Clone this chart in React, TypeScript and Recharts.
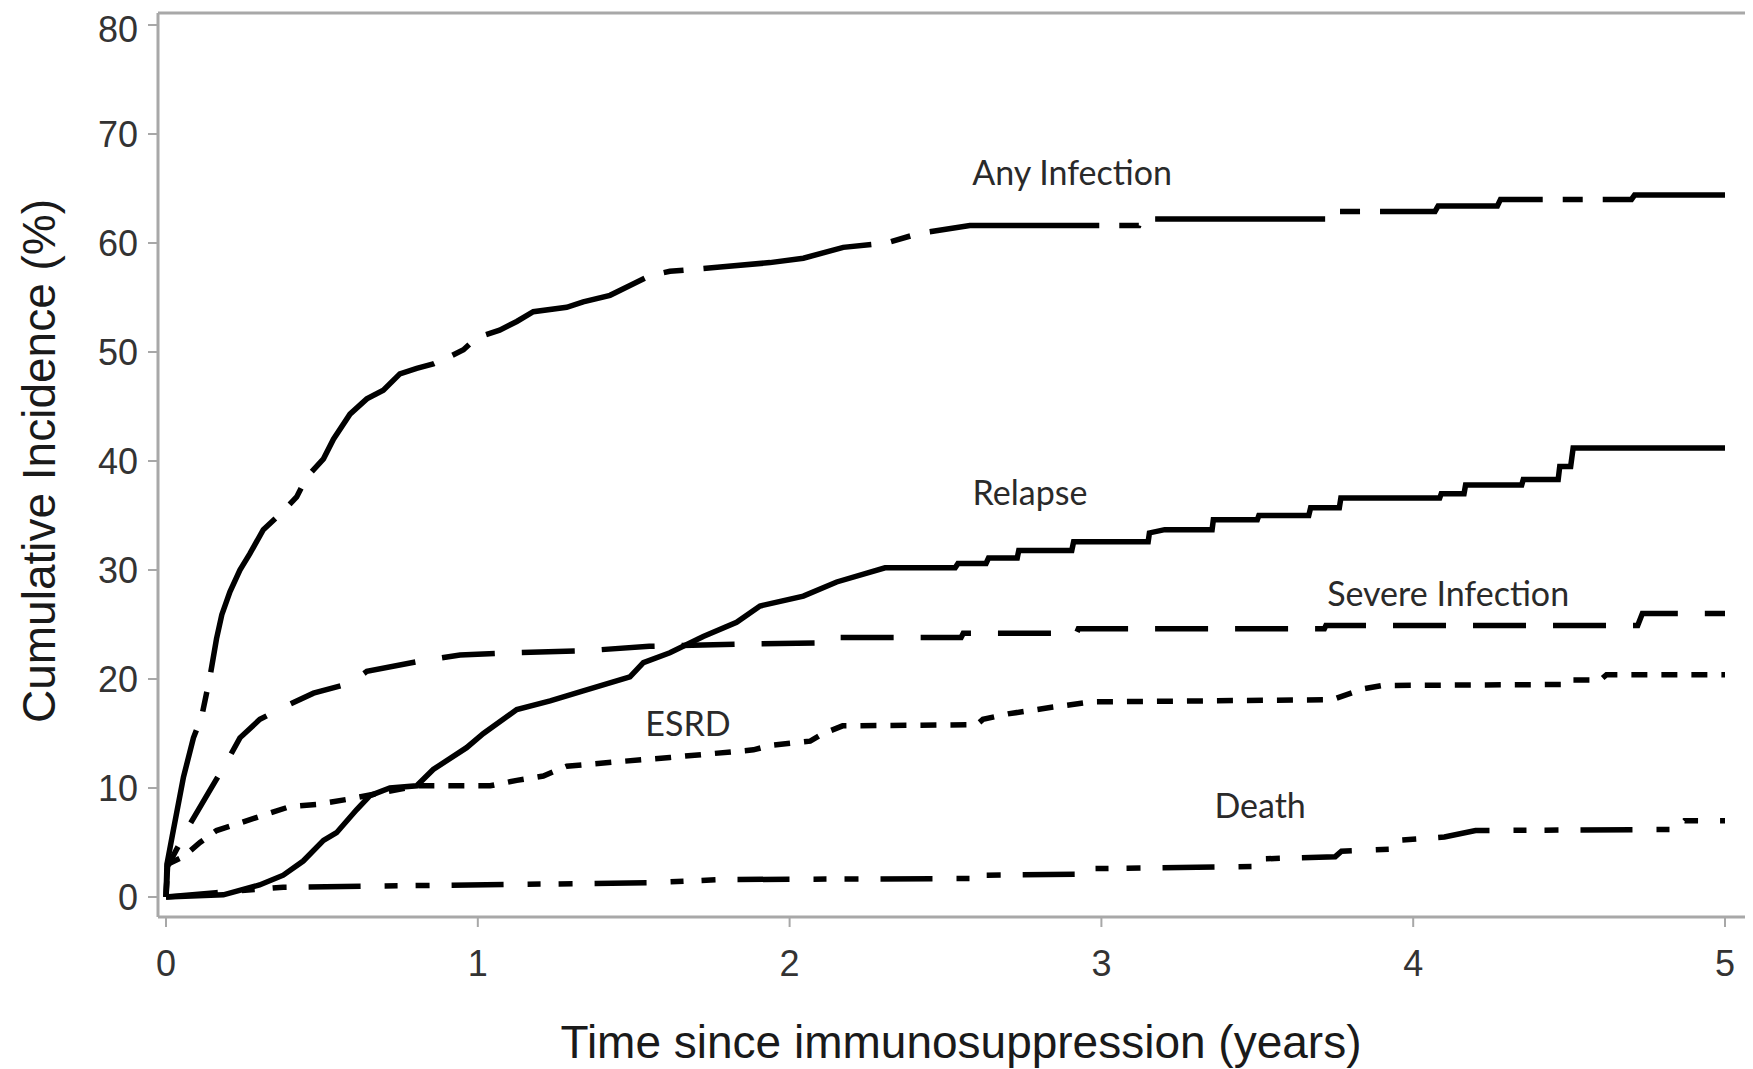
import React from "react";
import {
  LineChart,
  Line,
  XAxis,
  YAxis,
  ReferenceLine,
  ReferenceDot,
} from "recharts";

// cumulative incidence (%) as [years, percent] vertices
const anyInfection: [number, number][] = [
  [0, 0], [0.003, 3], [0.02, 5.6], [0.056, 11], [0.088, 14.6], [0.114, 16.5],
  [0.141, 20.2], [0.162, 23.7], [0.179, 25.9], [0.205, 28], [0.237, 30],
  [0.269, 31.5], [0.312, 33.7], [0.376, 35.4], [0.419, 36.7], [0.451, 38.5],
  [0.505, 40.2], [0.537, 42], [0.59, 44.3], [0.644, 45.7], [0.697, 46.5],
  [0.75, 48], [0.804, 48.5], [0.857, 48.9], [0.911, 49.6], [0.954, 50.2],
  [0.996, 51.3], [1.07, 52], [1.125, 52.8], [1.178, 53.7], [1.285, 54.1],
  [1.338, 54.6], [1.424, 55.2], [1.488, 56.1], [1.552, 57], [1.616, 57.4],
  [1.777, 57.8], [1.937, 58.2], [2.044, 58.6], [2.172, 59.6], [2.31, 60],
  [2.418, 60.9], [2.578, 61.6], [3.12, 61.6], [3.13, 62.2], [3.73, 62.2],
  [3.74, 62.9], [4.07, 62.9], [4.08, 63.4], [4.27, 63.4], [4.28, 64.0],
  [4.7, 64.0], [4.71, 64.4], [5.0, 64.4],
];

const relapse: [number, number][] = [
  [0, 0], [0.184, 0.2], [0.3, 1.1], [0.376, 2], [0.44, 3.3], [0.505, 5.2],
  [0.547, 5.9], [0.611, 8], [0.654, 9.3], [0.718, 10], [0.804, 10.2],
  [0.857, 11.7], [0.964, 13.7], [1.018, 15], [1.125, 17.2], [1.232, 18],
  [1.338, 18.9], [1.488, 20.2], [1.531, 21.5], [1.616, 22.4], [1.723, 23.9],
  [1.83, 25.2], [1.905, 26.7], [2.044, 27.6], [2.151, 28.9], [2.306, 30.2],
  [2.531, 30.2], [2.54, 30.6], [2.63, 30.6], [2.638, 31.1], [2.73, 31.1],
  [2.735, 31.8], [2.905, 31.8], [2.911, 32.6], [3.15, 32.6], [3.154, 33.4],
  [3.203, 33.7], [3.355, 33.7], [3.359, 34.6], [3.5, 34.6], [3.505, 35.0],
  [3.665, 35.0], [3.671, 35.7], [3.763, 35.7], [3.768, 36.6], [4.085, 36.6],
  [4.09, 37.0], [4.163, 37.0], [4.168, 37.8], [4.348, 37.8], [4.353, 38.3],
  [4.465, 38.3], [4.47, 39.5], [4.505, 39.5], [4.513, 41.2], [5.0, 41.2],
];

const severeInfection: [number, number][] = [
  [0, 0], [0.005, 2.8], [0.077, 6.7], [0.141, 9.8], [0.195, 12.4],
  [0.237, 14.6], [0.301, 16.3], [0.376, 17.4], [0.473, 18.7], [0.59, 19.6],
  [0.644, 20.7], [0.825, 21.7], [0.943, 22.2], [1.1, 22.4], [1.35, 22.6],
  [1.55, 23], [1.83, 23.2], [2.1, 23.3], [2.15, 23.8], [2.55, 23.8],
  [2.557, 24.2], [2.92, 24.2], [2.926, 24.6], [3.715, 24.6], [3.72, 24.9],
  [4.72, 24.9], [4.735, 26.0], [5.0, 26.0],
];

const esrd: [number, number][] = [
  [0, 0], [0.005, 3], [0.056, 3.7], [0.109, 5], [0.162, 6.1], [0.227, 6.7],
  [0.323, 7.6], [0.398, 8.3], [0.483, 8.5], [0.59, 9.0], [0.697, 9.6],
  [0.804, 10.2], [1.04, 10.2], [1.125, 10.7], [1.21, 11.1], [1.285, 12],
  [1.445, 12.4], [1.616, 12.8], [1.884, 13.5], [1.937, 13.9], [2.066, 14.3],
  [2.108, 15], [2.17, 15.7], [2.6, 15.8], [2.62, 16.3], [2.7, 16.8],
  [2.84, 17.4], [2.97, 17.9], [3.74, 18.1], [3.84, 19.1], [3.9, 19.4],
  [4.49, 19.5], [4.51, 19.9], [4.6, 19.9], [4.62, 20.4], [5.0, 20.4],
];

const death: [number, number][] = [
  [0, 0], [0.16, 0.4], [0.376, 0.9], [1.55, 1.3], [1.776, 1.6], [2.6, 1.7],
  [2.62, 2.0], [2.96, 2.1], [2.97, 2.6], [3.5, 2.8], [3.52, 3.5], [3.75, 3.7],
  [3.77, 4.2], [3.93, 4.4], [3.95, 5.2], [4.1, 5.5], [4.2, 6.1], [4.84, 6.2],
  [4.87, 7.0], [5.0, 7.0],
];

const xTicks = [0, 1, 2, 3, 4, 5];
const yTicks = [0, 10, 20, 30, 40, 50, 60, 70, 80];

// curve labels, placed in data coordinates
const curveLabels: { text: string; t: number; v: number }[] = [
  { text: "Any Infection", t: 2.906, v: 66.4 },
  { text: "Relapse", t: 2.771, v: 37.1 },
  { text: "Severe Infection", t: 4.112, v: 27.8 },
  { text: "ESRD", t: 1.674, v: 15.9 },
  { text: "Death", t: 3.509, v: 8.3 },
];

const toRows = (pts: [number, number][]) => pts.map(([t, v]) => ({ t, v }));

const X_DOMAIN: [number, number] = [-0.0257, 5.0866];
const Y_DOMAIN: [number, number] = [-1.835, 81.1];

const AXIS = "#a8a8a8";
const SANS = "'Liberation Sans', Arial, sans-serif";

const series = [
  { name: "Any Infection", pts: anyInfection, dash: "170 20 20 20" },
  { name: "Relapse", pts: relapse, dash: undefined },
  { name: "Severe Infection", pts: severeInfection, dash: "53 27" },
  { name: "ESRD", pts: esrd, dash: "16 14" },
  { name: "Death", pts: death, dash: "52 24 13 18 14 22" },
];

export default function App() {
  return (
    <div style={{ width: 1745, height: 1061, background: "#fff" }}>
      <LineChart
        width={1745}
        height={1061}
        margin={{ top: 5, right: 1, bottom: 0, left: 0 }}
      >
        <XAxis
          dataKey="t"
          type="number"
          domain={X_DOMAIN}
          ticks={xTicks}
          allowDataOverflow
          height={152}
          tickSize={10}
          tickMargin={23}
          stroke={AXIS}
          strokeWidth={3}
          tick={{ fill: "#333", fontSize: 36, fontFamily: SANS }}
          tickLine={{ stroke: AXIS, strokeWidth: 2 }}
          label={{
            content: () => (
              <text
                x={953}
                y={1050}
                textAnchor="middle"
                fontSize={46}
                fontFamily={SANS}
                fill="#1a1a1a"
              >
                Time since immunosuppression (years)
              </text>
            ),
          }}
        />
        <YAxis
          type="number"
          domain={Y_DOMAIN}
          ticks={yTicks}
          allowDataOverflow
          width={150}
          tickSize={10}
          tickMargin={10}
          stroke={AXIS}
          strokeWidth={3}
          tick={{ fill: "#333", fontSize: 36, fontFamily: SANS }}
          tickLine={{ stroke: AXIS, strokeWidth: 2 }}
          label={{
            content: () => (
              <text
                x={47}
                y={453}
                transform="rotate(-90, 47, 453)"
                textAnchor="middle"
                fontSize={46}
                fontFamily={SANS}
                fill="#1a1a1a"
              >
                Cumulative Incidence (%)
              </text>
            ),
          }}
        />
        <ReferenceLine
          y={Y_DOMAIN[1]}
          stroke={AXIS}
          strokeWidth={3}
          ifOverflow="visible"
        />
        {series.map((s) => (
          <Line
            key={s.name}
            name={s.name}
            data={toRows(s.pts)}
            dataKey="v"
            type="linear"
            stroke="#000"
            strokeWidth={5.5}
            strokeDasharray={s.dash}
            dot={false}
            activeDot={false}
            isAnimationActive={false}
          />
        ))}
        {curveLabels.map((c) => (
          <ReferenceDot
            key={c.text}
            x={c.t}
            y={c.v}
            r={0}
            ifOverflow="visible"
            shape={(p: any) => (
              <text
                x={p.cx}
                y={p.cy}
                dy="0.35em"
                textAnchor="middle"
                fontSize={34}
                fontFamily="Lato, 'Open Sans', sans-serif"
                fill="#2a2a2a"
              >
                {c.text}
              </text>
            )}
          />
        ))}
      </LineChart>
    </div>
  );
}
